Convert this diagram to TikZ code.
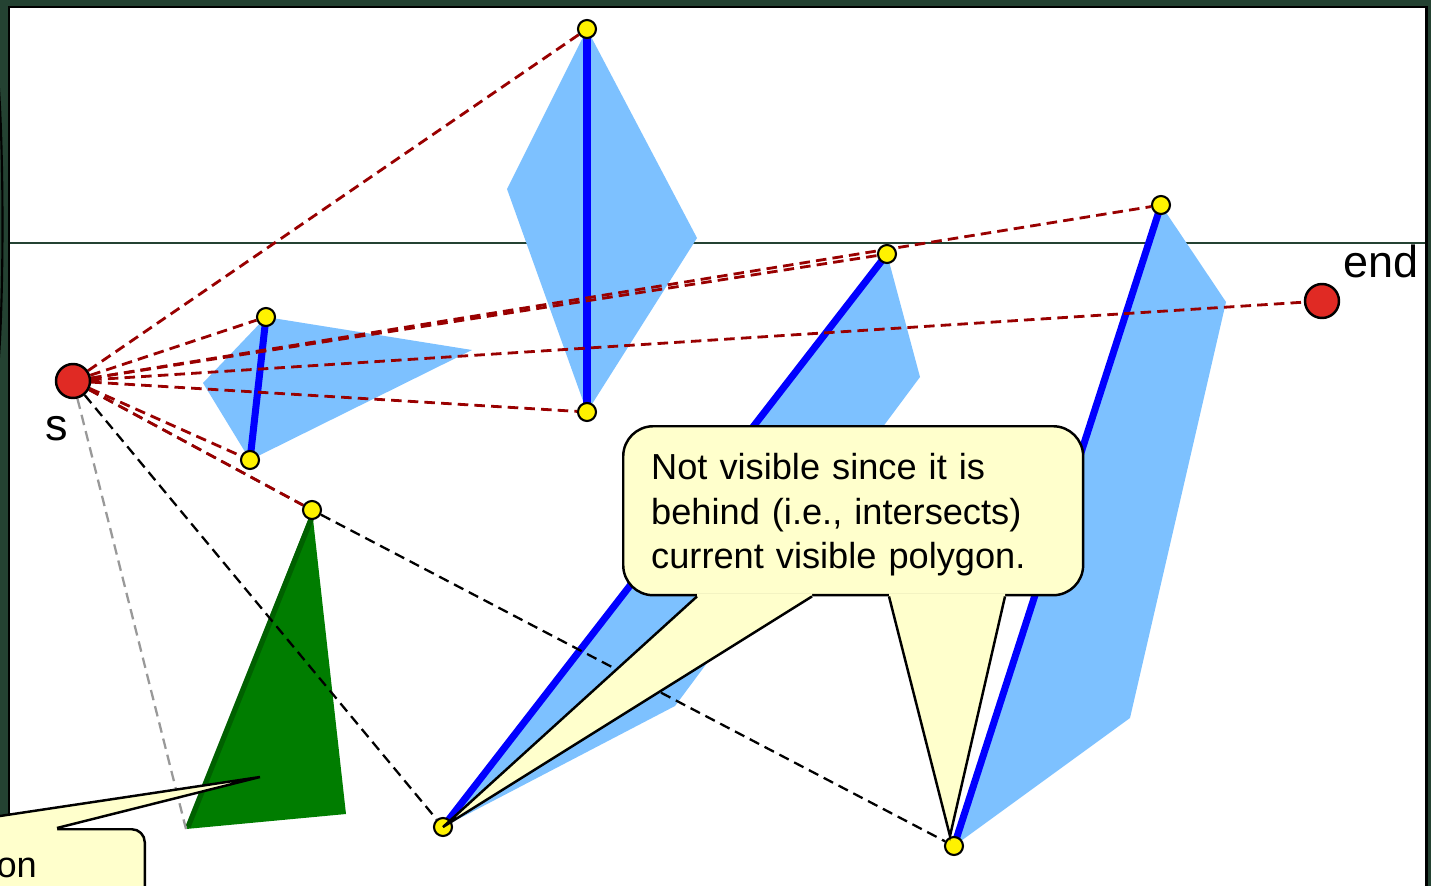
\documentclass[tikz,border=0pt]{standalone}
\usepackage{fontspec}
\setmainfont{Liberation Sans}
\usetikzlibrary{backgrounds,calc}

\definecolor{slidegreen}{RGB}{36,66,50}
\definecolor{polyblue}{RGB}{125,193,255}
\definecolor{ptred}{RGB}{224,42,36}
\definecolor{raydark}{RGB}{153,0,0}
\definecolor{notefill}{RGB}{255,255,204}
\definecolor{obsgreen}{RGB}{0,125,0}
\definecolor{obsedge}{RGB}{0,96,0}

\begin{document}
\begin{tikzpicture}[x=0.02cm, y=-0.02cm,
  ydot/.style={circle, draw, fill=yellow, line width=1.2pt, inner sep=0pt, minimum size=0.36cm},
  rdot/.style={circle, draw, fill=ptred, line width=1.4pt, inner sep=0pt, minimum size=0.68cm},
  poly/.style={fill=polyblue},
  wall/.style={blue, line width=4pt},
  ray/.style={raydark, line width=1.6pt, dash pattern=on 6pt off 3.5pt},
  hidray/.style={black, line width=1.3pt, dash pattern=on 6pt off 3.5pt},
  greyray/.style={gray!80, line width=1.3pt, dash pattern=on 6pt off 3.5pt},
  note/.style={rectangle, draw, fill=notefill, line width=1.4pt, rounded corners=0.6cm, align=left,
    font=\fontsize{20.6}{25.3}\selectfont},
  tail/.style={draw, line width=1.4pt},
  big/.style={font=\fontsize{25.6}{30}\selectfont, inner sep=0pt, anchor=base west},
]
\useasboundingbox (0,0) rectangle (1431,886);

% === Start / end ===
\node[rdot] (s) at (73,381) {};
\node[rdot] (e) at (1322,301) {};
\node[big] (slab) at (45,440) {s};
\node[big] (elab) at (1343,277) {end};

% === Polygon vertices ===
\node[ydot] (v1) at (266,317) {};
\node[ydot] (v2) at (250,460) {};
\node[ydot] (v3) at (587,29) {};
\node[ydot] (v4) at (587,412) {};
\node[ydot] (v5) at (887,254) {};
\node[ydot] (v6) at (1161,205) {};
\node[ydot] (v7) at (312,510) {};
\node[ydot] (v8) at (443,827) {};
\node[ydot] (v9) at (954,846) {};
\coordinate (g1) at (186,829);

\begin{pgfonlayer}{background}
% === Slide frame ===
\fill[slidegreen] (0,0) rectangle (1431,886);
\draw[fill=white, line width=1.7pt] (9,7) rectangle (1426,900);
\draw[line width=1.2pt] (-2,75) .. controls (4,150) and (4,300) .. (-2,370);
\draw[slidegreen, line width=0.6pt] (10,243) -- (1425,243);

% === Obstacles ===
\fill[poly] (v1.center) -- (472,350) -- (v2.center) -- (203,383) -- cycle;
\fill[poly] (v3.center) -- (697,238) -- (v4.center) -- (507,189) -- cycle;
\fill[poly] (v5.center) -- (920,377) -- (675,706) -- (v8.center) -- cycle;
\fill[poly] (v6.center) -- (1226,302) -- (1130,718) -- (v9.center) -- cycle;
\fill[obsgreen] (v7.center) -- (346,814) -- (g1) -- cycle;
\draw[obsedge, line width=3pt] ($(v7.center)+(2,2)$) -- ($(g1)+(2,-2)$);

\draw[wall] (v1.center) -- (v2.center);
\draw[wall] (v3.center) -- (v4.center);
\draw[wall] (v5.center) -- (v8.center);
\draw[wall] (v6.center) -- (v9.center);

% === Rays from s ===
\draw[greyray] (s) -- (g1);
\draw[hidray] (s) -- (v8);
\draw[hidray] (s) -- (v7) -- (v9);
\draw[ray] (s) -- (v7);
\draw[ray] (s) -- (v2);
\draw[ray] (s) -- (v4);
\draw[ray] (s) -- (e);
\draw[ray] (s) -- (v5);
\draw[ray] (s) -- (v6);
\draw[ray] (s) -- (v1);
\draw[ray] (s) -- (v3);
\end{pgfonlayer}

% === Callouts ===
\node[note, anchor=north west, text width=8.08cm, inner xsep=0.56cm, minimum height=3.38cm] (note) at (622,425)
  {\rule{0pt}{0.69cm}Not visible since it is\\behind (i.e., intersects)\\current visible polygon.};
\coordinate (t2) at (950,836);
\fill[notefill] ($(note.south west)+(75,-3)$) -- ($(note.south west)+(75,0)$) -- (v8.center)
  -- ($(note.south west)+(190,0)$) -- ($(note.south west)+(190,-3)$) -- cycle;
\draw[tail] ($(note.south west)+(75,0)$) -- (v8.center) -- ($(note.south west)+(190,0)$);
\fill[notefill] ($(note.south west)+(267,-3)$) -- ($(note.south west)+(267,0)$) -- (t2)
  -- ($(note.south west)+(383,0)$) -- ($(note.south west)+(383,-3)$) -- cycle;
\draw[tail] ($(note.south west)+(267,0)$) -- (t2) -- ($(note.south west)+(383,0)$);

\node[note, rounded corners=0.26cm, anchor=north east, text width=2cm, align=right, inner xsep=2.16cm,
  minimum height=1.56cm] (note2) at (146,828) {on};
\coordinate (t3) at (260,777);
\fill[notefill] ($(note2.north east)+(-226,3)$) -- ($(note2.north east)+(-226,0)$) -- (t3)
  -- ($(note2.north east)+(-89,0)$) -- ($(note2.north east)+(-89,3)$) -- cycle;
\draw[tail] ($(note2.north east)+(-226,0)$) -- (t3) -- ($(note2.north east)+(-89,0)$);
\end{tikzpicture}
\end{document}
